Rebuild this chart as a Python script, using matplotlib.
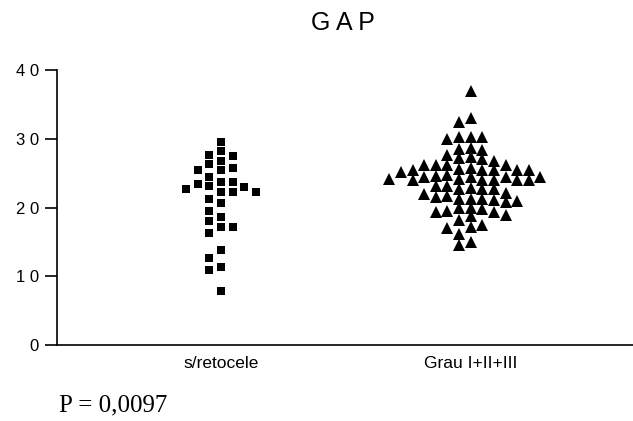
import matplotlib
matplotlib.use("Agg")
import matplotlib.pyplot as plt

# GAP values per group (read as scatter columns)
groups = ["s/retocele", "Grau I+II+III"]
gap_sem = [29.6, 28.2, 27.7, 27.5, 26.7, 26.3, 25.7, 25.5, 25.4, 24.5,
           23.7, 23.7, 23.4, 23.1, 23.0, 22.7, 22.3, 22.2, 22.2, 21.3,
           20.7, 19.5, 18.6, 18.1, 17.2, 17.2, 16.3, 13.8, 12.6, 11.4,
           10.9, 7.9]
gap_grau = [36.9, 33.0, 32.4, 30.3, 30.2, 30.2, 29.9, 28.7, 28.5, 28.4,
            27.6, 27.3, 27.2, 27.0, 26.8, 26.2, 26.2, 26.2, 26.2, 25.7,
            25.6, 25.4, 25.4, 25.4, 25.4, 25.4, 25.2, 24.7, 24.6, 24.5,
            24.5, 24.4, 24.4, 24.1, 24.1, 24.0, 24.0, 24.0, 24.0, 24.0,
            23.1, 23.1, 22.9, 22.7, 22.7, 22.7, 22.1, 21.9, 21.7, 21.6,
            21.3, 21.2, 21.2, 21.1, 21.0, 20.8, 20.0, 19.9, 19.8, 19.5,
            19.4, 19.4, 18.9, 18.7, 18.2, 17.5, 17.1, 17.0, 16.1, 15.0,
            14.5]
yticks = [0, 10, 20, 30, 40]
ytick_labels = ["0", "1 0", "2 0", "3 0", "4 0"]
p_text = "P = 0,0097"

STEP = 0.0465  # horizontal spacing between columns of points


def swarm(values, h):
    """Greedy column placement: nearest free column to the centre."""
    cols = {}
    xs = []
    order = [0]
    for k in range(1, 20):
        order += [-k, k]
    for v in values:
        for c in order:
            if all(abs(v - y) >= h for y in cols.get(c, [])):
                cols.setdefault(c, []).append(v)
                xs.append(c * STEP)
                break
    return xs


plt.rcParams["font.family"] = ["Liberation Sans", "DejaVu Sans"]

fig = plt.figure(figsize=(6.33, 4.21), dpi=100)
ax = fig.add_axes([0.090, 0.1805, 0.910, 0.6532])

xs0 = swarm(gap_sem, 1.3)
ax.plot([0 + x for x in xs0], gap_sem, "s", color="black", ms=6.3,
        markeredgewidth=0, linestyle="none")
xs1 = swarm(gap_grau, 1.3)
ax.plot([1 + x for x in xs1], gap_grau, "^", color="black", ms=8,
        markeredgewidth=0, linestyle="none")

ax.set_xlim(-0.657, 1.65)
ax.set_ylim(0, 40)
ax.set_yticks(yticks)
ax.set_yticklabels(ytick_labels, fontsize=12)
ax.set_xticks([0, 1])
ax.set_xticklabels(groups, fontsize=12.5)
ax.tick_params(axis="x", length=0, pad=8)
ax.tick_params(axis="y", length=9, width=1.2, pad=4)

for s in ("top", "right"):
    ax.spines[s].set_visible(False)
ax.spines["left"].set_linewidth(1.2)
ax.spines["bottom"].set_linewidth(1.2)

fig.text(0.542, 0.945, "G A P", ha="center", va="center", fontsize=18)
fig.text(0.093, 0.038, p_text, ha="left", va="center", fontsize=18,
         family=["Liberation Serif", "DejaVu Serif"])

fig.savefig("out.png", dpi=100)
